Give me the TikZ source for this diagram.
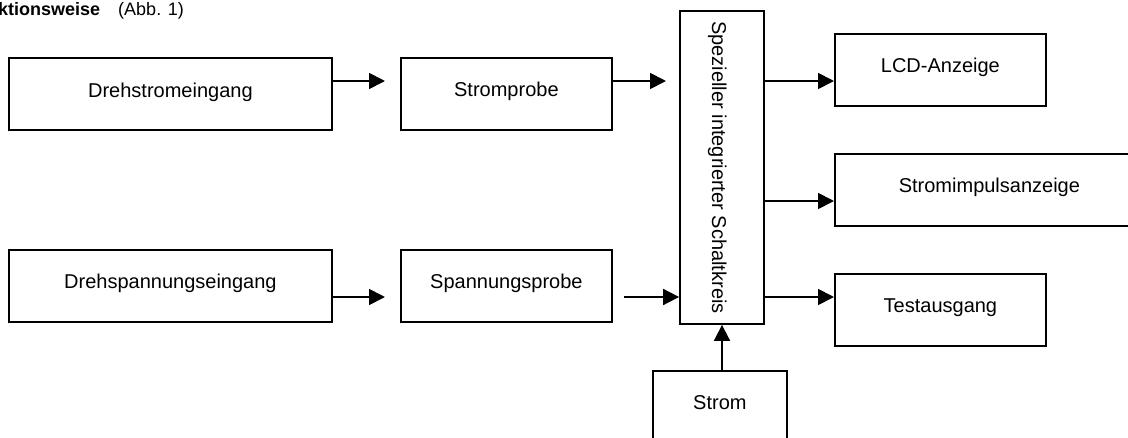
\documentclass[tikz,border=0pt]{standalone}
\usepackage{fontspec}
\setmainfont{Liberation Sans}
\usetikzlibrary{arrows.meta}
\tikzset{
  x=1pt,y=-1pt,
  blockbox/.style={draw,line width=1.8pt,inner sep=0pt,anchor=north west,font=\fontsize{20}{24}\selectfont},
  arr/.style={line width=1.8pt,-{Triangle[length=16pt,width=16pt]}}
}
\newcommand{\boxtxt}[2]{\raisebox{#1pt}[0pt][0pt]{#2}}
\begin{document}
\begin{tikzpicture}
\useasboundingbox (0,0) rectangle (1128,437);
\clip (0,0) rectangle (1128,437);
\node[anchor=base west,inner sep=0pt,font=\fontsize{18}{22}\selectfont] (title) at (-2,15) {\textbf{ktionsweise}\hspace{18pt}(Abb. 1)};
\node[blockbox,minimum width=323pt,minimum height=72pt] (dreh) at (8,57) {\boxtxt{-4}{Drehstromeingang}};
\node[blockbox,minimum width=211pt,minimum height=72pt] (strom) at (400,57) {\boxtxt{-3}{Stromprobe}};
\node[blockbox,minimum width=323pt,minimum height=72pt] (span) at (8,249) {\boxtxt{-3}{Drehspannungseingang}};
\node[blockbox,minimum width=211pt,minimum height=72pt] (sprobe) at (400,249) {\boxtxt{-3}{Spannungsprobe}};
\node[draw,line width=1.8pt,inner sep=0pt,minimum width=313pt,minimum height=84pt,rotate=-90,font=\fontsize{20}{24}\selectfont] (ic) at (722,167.5) {\boxtxt{-10}{Spezieller integrierter Schaltkreis}};
\node[blockbox,minimum width=211pt,minimum height=72pt] (lcd) at (834,33) {\boxtxt{-3}{LCD-Anzeige}};
\node[blockbox,minimum width=309pt,minimum height=72pt] (imp) at (834,153) {\boxtxt{-3}{Stromimpulsanzeige}};
\node[blockbox,minimum width=211pt,minimum height=72pt] (test) at (834,273) {\boxtxt{-3}{Testausgang}};
\node[blockbox,minimum width=134pt,minimum height=72pt] (versorg) at (652,370) {\boxtxt{-3}{Strom}};
\coordinate (a1) at (385,81);
\coordinate (a2) at (666,81);
\coordinate (a3) at (385,297);
\coordinate (a4) at (624,297);
\coordinate (b1) at (0,81);
\coordinate (b2) at (0,201);
\coordinate (b3) at (0,297);
\coordinate (c) at (722,0);
\draw[arr] (dreh.east |- a1) -- (a1);
\draw[arr] (strom.east |- a2) -- (a2);
\draw[arr] (span.east |- a3) -- (a3);
\draw[arr] (a4) -- (ic.south |- a4);
\draw[arr] (ic.north |- b1) -- (lcd.west |- b1);
\draw[arr] (ic.north |- b2) -- (imp.west |- b2);
\draw[arr] (ic.north |- b3) -- (test.west |- b3);
\draw[arr] (versorg.north -| c) -- (ic.east -| c);
\end{tikzpicture}
\end{document}
